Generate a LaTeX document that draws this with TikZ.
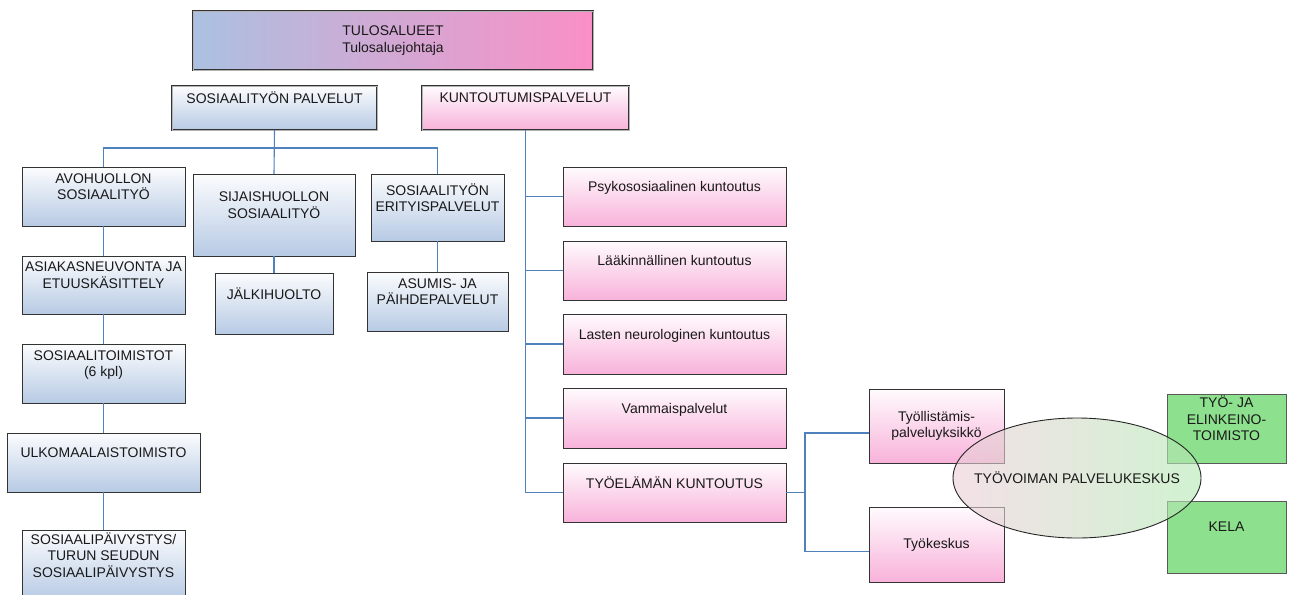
\documentclass[tikz,border=0pt]{standalone}
\usepackage{fontspec}
\setmainfont{Liberation Sans}
\usetikzlibrary{positioning,shapes.geometric,calc}

\definecolor{lineblue}{RGB}{79,129,189}
\definecolor{boxblue}{RGB}{183,202,228}
\definecolor{boxpink}{RGB}{248,178,218}
\definecolor{boxgreen}{RGB}{141,224,141}
\definecolor{headblue}{RGB}{171,193,225}
\definecolor{headpink}{RGB}{250,143,198}
\definecolor{ringpink}{RGB}{236,205,216}
\definecolor{ringmid}{RGB}{244,242,238}
\definecolor{ringgreen}{RGB}{178,234,178}

\begin{document}
\begin{tikzpicture}[x=1pt,y=-1pt,
  every node/.style={font=\fontsize{14pt}{16.5pt}\selectfont, text=black!90, align=center, inner xsep=1pt, inner ysep=0pt},
  orgbox/.style={rectangle, draw=black!80, line width=1pt, outer sep=0pt},
  bluebox/.style={orgbox, top color=white!95!boxblue, bottom color=boxblue},
  pinkbox/.style={orgbox, top color=white!95!boxpink, bottom color=boxpink},
  greenbox/.style={orgbox, draw=black!65, fill=boxgreen},
  headbox/.style={double=gray!60, double distance=0.9pt, line width=0.9pt},
  raised/.style={execute at end node={\rule[-20pt]{0pt}{20pt}}},
  conn/.style={draw=lineblue, line width=1.1pt}]
 \path[use as bounding box, fill=white] (0,0) rectangle (1289,594);
 %
 \node[orgbox, headbox, left color=headblue, right color=headpink, minimum width=400, minimum height=59, anchor=north west] (tulos) at (193,11) {TULOSALUEET\\Tulosaluejohtaja};
 \node[bluebox, headbox, raised, minimum width=205, minimum height=44, anchor=north west] (sos) at (172,86) {SOSIAALITYÖN PALVELUT};
 \node[pinkbox, headbox, raised, minimum width=207, minimum height=44, anchor=north west] (kunt) at (422,86) {KUNTOUTUMISPALVELUT};
 %
 \node[bluebox, raised, minimum width=163, minimum height=59, anchor=north west] (avo) at (22,167) {AVOHUOLLON\\SOSIAALITYÖ};
 \node[bluebox, raised, minimum width=163, minimum height=58, below=30pt of avo] (asi) {ASIAKASNEUVONTA JA\\ETUUSKÄSITTELY};
 \node[bluebox, raised, minimum width=163, minimum height=59, below=30pt of asi] (stoim) {SOSIAALITOIMISTOT\\(6 kpl)};
 \node[bluebox, raised, minimum width=193, minimum height=59, below=30pt of stoim] (ulko) {ULKOMAALAISTOIMISTO};
 \node[bluebox, raised, minimum width=163, minimum height=70, below=38pt of ulko] (paiv) {SOSIAALIPÄIVYSTYS/\\TURUN SEUDUN\\SOSIAALIPÄIVYSTYS};
 \node[bluebox, raised, minimum width=162, minimum height=82, anchor=north west] (sij) at (193,174) {SIJAISHUOLLON\\SOSIAALITYÖ};
 \node[bluebox, raised, minimum width=118, minimum height=61, below=17pt of sij] (jalki) {JÄLKIHUOLTO};
 \node[bluebox, raised, minimum width=133, minimum height=67, anchor=north west] (eri) at (371,174) {SOSIAALITYÖN\\ERITYISPALVELUT};
 \node[bluebox, raised, minimum width=141, minimum height=59, below=31pt of eri] (asu) {ASUMIS- JA\\PÄIHDEPALVELUT};
 %
 \node[pinkbox, raised, minimum width=223, minimum height=59, anchor=north west] (psy) at (563,167) {Psykososiaalinen kuntoutus};
 \node[pinkbox, raised, minimum width=223, minimum height=59, below=15pt of psy] (laak) {Lääkinnällinen kuntoutus};
 \node[pinkbox, raised, minimum width=223, minimum height=60, below=14pt of laak] (last) {Lasten neurologinen kuntoutus};
 \node[pinkbox, raised, minimum width=223, minimum height=60, below=14pt of last] (vamm) {Vammaispalvelut};
 \node[pinkbox, raised, minimum width=223, minimum height=59, below=15pt of vamm] (tyoel) {TYÖELÄMÄN KUNTOUTUS};
 \node[pinkbox, minimum width=135, minimum height=74, anchor=north west] (tyoll) at (869,389) {Työllistämis-\\palveluyksikkö};
 \node[pinkbox, minimum width=135, minimum height=75, below=44pt of tyoll] (tyok) {Työkeskus};
 \node[greenbox, raised, minimum width=119, minimum height=69, anchor=north west] (te) at (1167,394) {TYÖ- JA\\ELINKEINO-\\TOIMISTO};
 \node[greenbox, raised, minimum width=119, minimum height=72, below=38pt of te] (kela) {KELA};
 %
 \coordinate (sbus) at ($(sos.south)+(0,18)$);
 \coordinate (tbus) at ($(tyoel.east)+(19,0)$);
 \draw[conn] (sos.south) -- (sij.north);
 \draw[conn] (avo.north) |- (sbus) -| (eri.north);
 \draw[conn] (avo.south) -- (asi.north) (asi.south) -- (stoim.north) (stoim.south) -- (ulko.north) (ulko.south) -- (paiv.north);
 \draw[conn] (sij.south) -- (jalki.north) (eri.south) -- (asu.north);
 \draw[conn] (kunt.south) |- (tyoel.west);
 \draw[conn] (psy.west) -| (kunt.south) (laak.west) -| (kunt.south) (last.west) -| (kunt.south) (vamm.west) -| (kunt.south);
 \draw[conn] (tyoel.east) -- (tbus);
 \draw[conn] ([yshift=-7pt]tyoll.west) -| (tbus) |- ([yshift=-7pt]tyok.west);
 %
 \begin{scope}[transparency group, opacity=0.6]
  \shade[left color=ringpink, middle color=ringmid, right color=ringgreen] (1077,478) ellipse [x radius=124, y radius=60];
 \end{scope}
 \node[ellipse, draw=black!85, line width=0.9pt, minimum width=248, minimum height=120, inner sep=0pt] (tpk) at (1077,478) {\makebox[0pt]{TYÖVOIMAN PALVELUKESKUS}};
\end{tikzpicture}
\end{document}
